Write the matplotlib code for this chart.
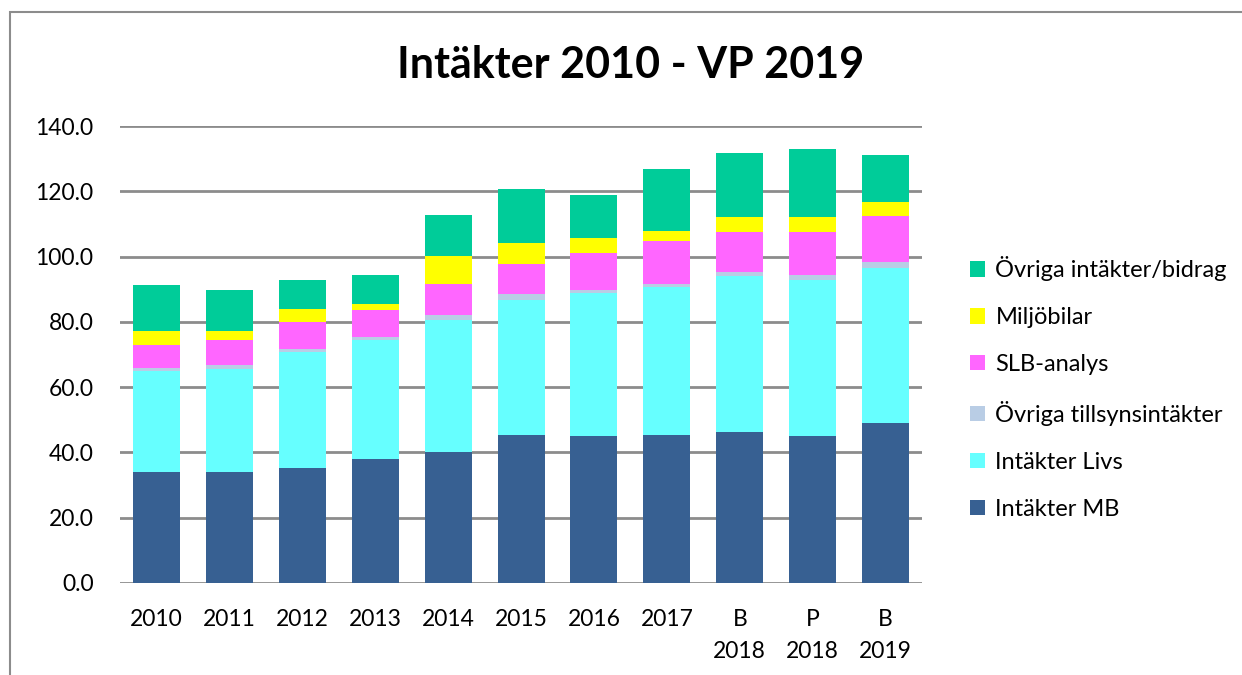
import matplotlib
matplotlib.use("Agg")
import matplotlib.pyplot as plt
from matplotlib.patches import Rectangle
import numpy as np

plt.rcParams['font.family'] = ['Lato', 'DejaVu Sans']

categories = ["2010", "2011", "2012", "2013", "2014", "2015", "2016", "2017",
              "B\n2018", "P\n2018", "B\n2019"]

intakter_mb = [33.9, 33.9, 35.2, 37.9, 40.2, 45.4, 45.1, 45.4, 46.2, 45.0, 48.9]
intakter_livs = [31.1, 31.8, 35.6, 36.4, 40.4, 41.3, 43.7, 45.2, 47.8, 47.9, 47.5]
ovriga_tillsyn = [0.8, 1.2, 0.9, 1.2, 1.4, 1.7, 0.9, 1.1, 1.4, 1.5, 2.0]
slb_analys = [7.1, 7.4, 8.4, 8.1, 9.5, 9.2, 11.3, 13.0, 12.1, 13.0, 13.9]
miljobilar = [4.4, 2.9, 3.7, 2.0, 8.8, 6.6, 4.6, 3.0, 4.5, 4.8, 4.5]
ovriga_bidrag = [14.0, 12.7, 9.1, 8.9, 12.5, 16.5, 13.3, 19.0, 19.7, 20.9, 14.3]

series = [
    ("Intäkter MB", intakter_mb, "#376092"),
    ("Intäkter Livs", intakter_livs, "#66FFFF"),
    ("Övriga tillsynsintäkter", ovriga_tillsyn, "#B9CDE5"),
    ("SLB-analys", slb_analys, "#FF66FF"),
    ("Miljöbilar", miljobilar, "#FFFF00"),
    ("Övriga intäkter/bidrag", ovriga_bidrag, "#00CC99"),
]

fig = plt.figure(figsize=(12.42, 6.75), dpi=100)
ax = fig.add_axes([0.0966, 0.1363, 0.6458, 0.677])

x = np.arange(len(categories))
bottom = np.zeros(len(categories))
handles = []
for name, vals, color in series:
    vals = np.array(vals)
    b = ax.bar(x, vals, width=0.645, bottom=bottom, color=color, label=name,
               edgecolor="none", zorder=3)
    handles.append(b)
    bottom += vals

ax.set_xlim(-0.5, len(categories) - 0.5)
ax.set_ylim(0, 140)
ax.set_yticks(np.arange(0, 141, 20))
ax.set_yticklabels([f"{v:.1f}" for v in np.arange(0, 141, 20)], fontsize=16.5)
ax.set_xticks(x)
ax.set_xticklabels(categories, fontsize=16.5, linespacing=1.65, va="top")
ax.tick_params(axis="both", length=0)
ax.tick_params(axis="y", pad=19)
ax.tick_params(axis="x", pad=19)
ax.grid(axis="y", color="#8C8C8C", linewidth=2, zorder=0)
for s in ax.spines.values():
    s.set_visible(False)

fig.text(0.508, 0.903, "Intäkter 2010 - VP 2019", ha="center", va="center",
         fontsize=31, fontweight="bold")

leg = fig.legend(handles[::-1], [s[0] for s in series][::-1],
                 loc="center left", bbox_to_anchor=(0.764, 0.425),
                 frameon=False, fontsize=17, handlelength=0.62,
                 handleheight=0.62, handletextpad=0.45, labelspacing=1.1)

# outer chart border
fig.add_artist(Rectangle((10 / 1242, -0.05), 1.1, 1 - 12 / 675 + 0.05,
                         transform=fig.transFigure, fill=False,
                         edgecolor="#8C8C8C", linewidth=1.5, clip_on=False))

fig.savefig("out.png", dpi=100)
